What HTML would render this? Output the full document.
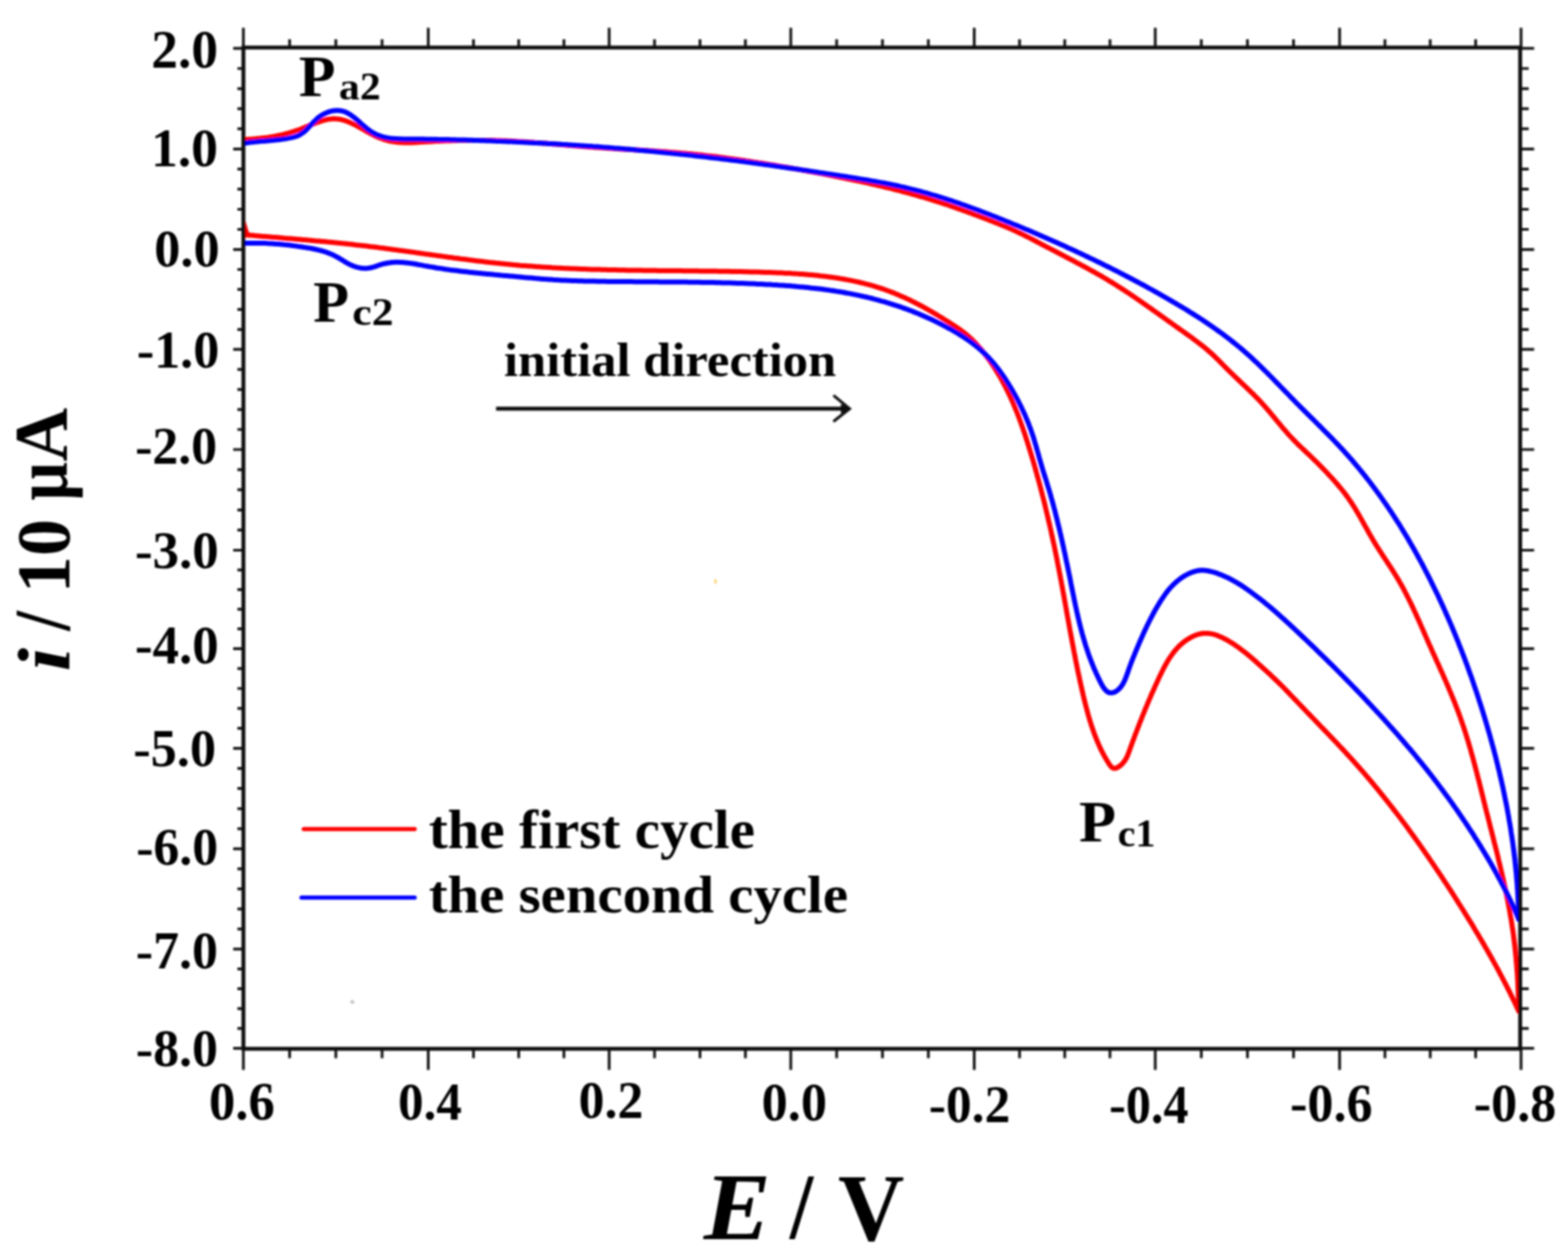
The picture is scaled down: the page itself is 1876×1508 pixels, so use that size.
<!DOCTYPE html>
<html><head><meta charset="utf-8"><title>Cyclic voltammogram</title>
<style>html,body{margin:0;padding:0;background:#fff;}svg{display:block;}</style>
</head><body>
<svg width="1876" height="1508" viewBox="0 0 1876 1508">
<rect width="1876" height="1508" fill="#fff"/>
<defs><filter id="soft" x="0" y="0" width="100%" height="100%" filterUnits="userSpaceOnUse"><feGaussianBlur stdDeviation="1.0"/></filter></defs>
<g filter="url(#soft)">
<path d="M291.2,1255.2L291.2,1280.5M291.2,56.9L291.2,33.3M346.5,1255.2L346.5,1266.5M346.5,56.9L346.5,47.0M401.8,1255.2L401.8,1266.5M401.8,56.9L401.8,47.0M457.1,1255.2L457.1,1266.5M457.1,56.9L457.1,47.0M512.4,1255.2L512.4,1280.5M512.4,56.9L512.4,33.3M566.5,1255.2L566.5,1266.5M566.5,56.9L566.5,47.0M620.6,1255.2L620.6,1266.5M620.6,56.9L620.6,47.0M674.7,1255.2L674.7,1266.5M674.7,56.9L674.7,47.0M728.8,1255.2L728.8,1280.5M728.8,56.9L728.8,33.3M783.1,1255.2L783.1,1266.5M783.1,56.9L783.1,47.0M837.5,1255.2L837.5,1266.5M837.5,56.9L837.5,47.0M891.8,1255.2L891.8,1266.5M891.8,56.9L891.8,47.0M946.1,1255.2L946.1,1280.5M946.1,56.9L946.1,33.3M1001.0,1255.2L1001.0,1266.5M1001.0,56.9L1001.0,47.0M1055.8,1255.2L1055.8,1266.5M1055.8,56.9L1055.8,47.0M1110.7,1255.2L1110.7,1266.5M1110.7,56.9L1110.7,47.0M1165.6,1255.2L1165.6,1280.5M1165.6,56.9L1165.6,33.3M1219.8,1255.2L1219.8,1266.5M1219.8,56.9L1219.8,47.0M1273.9,1255.2L1273.9,1266.5M1273.9,56.9L1273.9,47.0M1328.0,1255.2L1328.0,1266.5M1328.0,56.9L1328.0,47.0M1382.2,1255.2L1382.2,1280.5M1382.2,56.9L1382.2,33.3M1437.3,1255.2L1437.3,1266.5M1437.3,56.9L1437.3,47.0M1492.5,1255.2L1492.5,1266.5M1492.5,56.9L1492.5,47.0M1547.6,1255.2L1547.6,1266.5M1547.6,56.9L1547.6,47.0M1602.7,1255.2L1602.7,1280.5M1602.7,56.9L1602.7,33.3M1657.0,1255.2L1657.0,1266.5M1657.0,56.9L1657.0,47.0M1711.2,1255.2L1711.2,1266.5M1711.2,56.9L1711.2,47.0M1765.5,1255.2L1765.5,1266.5M1765.5,56.9L1765.5,47.0M1819.8,1255.2L1819.8,1280.5M1819.8,56.9L1819.8,33.3M291.2,57.9L279.0,57.9M1818.8,57.9L1835.5,57.9M291.2,82.0L284.0,82.0M1818.8,82.0L1829.0,82.0M291.2,106.1L284.0,106.1M1818.8,106.1L1829.0,106.1M291.2,130.1L284.0,130.1M1818.8,130.1L1829.0,130.1M291.2,154.2L284.0,154.2M1818.8,154.2L1829.0,154.2M291.2,178.3L279.0,178.3M1818.8,178.3L1835.5,178.3M291.2,202.4L284.0,202.4M1818.8,202.4L1829.0,202.4M291.2,226.4L284.0,226.4M1818.8,226.4L1829.0,226.4M291.2,250.5L284.0,250.5M1818.8,250.5L1829.0,250.5M291.2,274.5L284.0,274.5M1818.8,274.5L1829.0,274.5M291.2,298.6L279.0,298.6M1818.8,298.6L1835.5,298.6M291.2,322.5L284.0,322.5M1818.8,322.5L1829.0,322.5M291.2,346.4L284.0,346.4M1818.8,346.4L1829.0,346.4M291.2,370.4L284.0,370.4M1818.8,370.4L1829.0,370.4M291.2,394.3L284.0,394.3M1818.8,394.3L1829.0,394.3M291.2,418.2L279.0,418.2M1818.8,418.2L1835.5,418.2M291.2,442.2L284.0,442.2M1818.8,442.2L1829.0,442.2M291.2,466.1L284.0,466.1M1818.8,466.1L1829.0,466.1M291.2,490.1L284.0,490.1M1818.8,490.1L1829.0,490.1M291.2,514.0L284.0,514.0M1818.8,514.0L1829.0,514.0M291.2,538.0L279.0,538.0M1818.8,538.0L1835.5,538.0M291.2,562.1L284.0,562.1M1818.8,562.1L1829.0,562.1M291.2,586.2L284.0,586.2M1818.8,586.2L1829.0,586.2M291.2,610.3L284.0,610.3M1818.8,610.3L1829.0,610.3M291.2,634.4L284.0,634.4M1818.8,634.4L1829.0,634.4M291.2,658.5L279.0,658.5M1818.8,658.5L1835.5,658.5M291.2,682.1L284.0,682.1M1818.8,682.1L1829.0,682.1M291.2,705.6L284.0,705.6M1818.8,705.6L1829.0,705.6M291.2,729.2L284.0,729.2M1818.8,729.2L1829.0,729.2M291.2,752.7L284.0,752.7M1818.8,752.7L1829.0,752.7M291.2,776.3L279.0,776.3M1818.8,776.3L1835.5,776.3M291.2,800.2L284.0,800.2M1818.8,800.2L1829.0,800.2M291.2,824.0L284.0,824.0M1818.8,824.0L1829.0,824.0M291.2,847.9L284.0,847.9M1818.8,847.9L1829.0,847.9M291.2,871.7L284.0,871.7M1818.8,871.7L1829.0,871.7M291.2,895.6L279.0,895.6M1818.8,895.6L1835.5,895.6M291.2,919.7L284.0,919.7M1818.8,919.7L1829.0,919.7M291.2,943.7L284.0,943.7M1818.8,943.7L1829.0,943.7M291.2,967.8L284.0,967.8M1818.8,967.8L1829.0,967.8M291.2,991.8L284.0,991.8M1818.8,991.8L1829.0,991.8M291.2,1015.9L279.0,1015.9M1818.8,1015.9L1835.5,1015.9M291.2,1039.9L284.0,1039.9M1818.8,1039.9L1829.0,1039.9M291.2,1063.9L284.0,1063.9M1818.8,1063.9L1829.0,1063.9M291.2,1087.8L284.0,1087.8M1818.8,1087.8L1829.0,1087.8M291.2,1111.8L284.0,1111.8M1818.8,1111.8L1829.0,1111.8M291.2,1135.8L279.0,1135.8M1818.8,1135.8L1835.5,1135.8M291.2,1159.6L284.0,1159.6M1818.8,1159.6L1829.0,1159.6M291.2,1183.3L284.0,1183.3M1818.8,1183.3L1829.0,1183.3M291.2,1207.1L284.0,1207.1M1818.8,1207.1L1829.0,1207.1M291.2,1230.8L284.0,1230.8M1818.8,1230.8L1829.0,1230.8M291.2,1254.6L279.0,1254.6M1818.8,1254.6L1835.5,1254.6" stroke="#111" stroke-width="3.2" fill="none"/>
<path d="M292.5,281.0 L295.0,281.2 L297.5,281.4 L300.0,281.6 L302.5,281.8 L305.0,282.1 L307.5,282.3 L309.9,282.5 L312.4,282.7 L314.9,282.9 L317.4,283.1 L319.9,283.3 L322.4,283.5 L324.9,283.7 L327.4,283.9 L329.9,284.1 L332.4,284.3 L334.8,284.5 L337.3,284.7 L339.8,285.0 L342.3,285.2 L344.8,285.4 L347.3,285.6 L349.8,285.8 L352.3,286.0 L354.7,286.2 L357.2,286.4 L359.7,286.6 L362.2,286.9 L364.7,287.1 L367.2,287.3 L369.7,287.5 L372.1,287.7 L374.6,287.9 L377.1,288.2 L379.6,288.4 L382.1,288.6 L384.6,288.9 L387.0,289.1 L389.5,289.3 L392.0,289.6 L394.5,289.8 L397.0,290.0 L399.5,290.3 L401.9,290.5 L404.4,290.8 L406.9,291.0 L409.4,291.3 L411.9,291.5 L414.3,291.8 L416.8,292.1 L419.3,292.3 L421.8,292.6 L424.3,292.9 L426.8,293.2 L429.2,293.4 L431.7,293.7 L434.2,294.0 L436.7,294.3 L439.2,294.6 L441.6,294.9 L444.1,295.2 L446.6,295.5 L449.1,295.8 L451.6,296.1 L454.0,296.5 L456.5,296.8 L459.0,297.1 L461.5,297.4 L464.0,297.7 L466.4,298.1 L468.9,298.4 L471.4,298.7 L473.9,299.1 L476.4,299.4 L478.8,299.7 L481.3,300.1 L483.8,300.4 L486.3,300.8 L488.7,301.1 L491.2,301.4 L493.7,301.8 L496.2,302.1 L498.7,302.5 L501.1,302.8 L503.6,303.2 L506.1,303.5 L508.6,303.9 L511.1,304.2 L513.5,304.6 L516.0,304.9 L518.5,305.3 L521.0,305.6 L523.5,306.0 L525.9,306.3 L528.4,306.6 L530.9,307.0 L533.4,307.3 L535.9,307.7 L538.3,308.0 L540.8,308.3 L543.3,308.7 L545.8,309.0 L548.3,309.3 L550.7,309.7 L553.2,310.0 L555.7,310.3 L558.2,310.6 L560.7,310.9 L563.1,311.3 L565.6,311.6 L568.1,311.9 L570.6,312.2 L573.1,312.5 L575.5,312.8 L578.0,313.1 L580.5,313.4 L583.0,313.7 L585.5,314.0 L588.0,314.2 L590.4,314.5 L592.9,314.8 L595.4,315.0 L597.9,315.3 L600.4,315.6 L602.9,315.8 L605.3,316.1 L607.8,316.3 L610.3,316.5 L612.8,316.8 L615.3,317.0 L617.8,317.2 L620.3,317.4 L622.7,317.7 L625.2,317.9 L627.7,318.1 L630.2,318.3 L632.7,318.5 L635.2,318.6 L637.7,318.8 L640.1,319.0 L642.6,319.2 L645.1,319.3 L647.6,319.5 L650.1,319.7 L652.6,319.8 L655.1,320.0 L657.6,320.1 L660.1,320.3 L662.5,320.4 L665.0,320.6 L667.5,320.7 L670.0,320.8 L672.5,320.9 L675.0,321.1 L677.5,321.2 L680.0,321.3 L682.5,321.4 L685.0,321.5 L687.4,321.6 L689.9,321.7 L692.4,321.8 L694.9,321.9 L697.4,322.0 L699.9,322.1 L702.4,322.2 L704.9,322.3 L707.4,322.4 L709.9,322.4 L712.4,322.5 L714.9,322.6 L717.4,322.6 L719.8,322.7 L722.3,322.8 L724.8,322.8 L727.3,322.9 L729.8,323.0 L732.3,323.0 L734.8,323.1 L737.3,323.1 L739.8,323.2 L742.3,323.2 L744.8,323.3 L747.3,323.3 L749.8,323.4 L752.3,323.4 L754.8,323.5 L757.3,323.5 L759.8,323.5 L762.3,323.6 L764.8,323.6 L767.3,323.6 L769.8,323.7 L772.2,323.7 L774.7,323.7 L777.2,323.8 L779.7,323.8 L782.2,323.8 L784.7,323.8 L787.2,323.9 L789.7,323.9 L792.2,323.9 L794.7,323.9 L797.2,324.0 L799.7,324.0 L802.2,324.0 L804.7,324.0 L807.2,324.1 L809.7,324.1 L812.2,324.1 L814.7,324.1 L817.2,324.2 L819.7,324.2 L822.2,324.2 L824.7,324.2 L827.2,324.3 L829.7,324.3 L832.2,324.3 L834.7,324.3 L837.2,324.4 L839.7,324.4 L842.2,324.4 L844.7,324.5 L847.2,324.5 L849.7,324.5 L852.2,324.5 L854.7,324.6 L857.2,324.6 L859.7,324.7 L862.2,324.7 L864.7,324.7 L867.2,324.8 L869.7,324.8 L872.3,324.8 L874.8,324.9 L877.3,324.9 L879.8,325.0 L882.3,325.0 L884.8,325.1 L887.3,325.1 L889.8,325.2 L892.3,325.3 L894.8,325.3 L897.3,325.4 L899.8,325.4 L902.3,325.5 L904.8,325.6 L907.3,325.6 L909.8,325.7 L912.3,325.8 L914.8,325.9 L917.3,326.0 L919.8,326.0 L922.3,326.1 L924.8,326.2 L927.3,326.3 L929.8,326.4 L932.3,326.5 L934.8,326.6 L937.3,326.7 L939.8,326.9 L942.3,327.0 L944.8,327.1 L947.3,327.3 L949.8,327.4 L952.3,327.6 L954.8,327.7 L957.3,327.9 L959.8,328.1 L962.3,328.3 L964.8,328.5 L967.3,328.7 L969.8,328.9 L972.3,329.1 L974.7,329.4 L977.2,329.6 L979.7,329.9 L982.2,330.2 L984.6,330.4 L987.1,330.7 L989.6,331.1 L992.0,331.4 L994.5,331.7 L997.0,332.1 L999.4,332.4 L1001.9,332.8 L1004.3,333.2 L1006.8,333.6 L1009.2,334.0 L1011.7,334.5 L1014.1,334.9 L1016.5,335.4 L1019.0,335.9 L1021.4,336.4 L1023.8,336.9 L1026.2,337.4 L1028.6,338.0 L1031.1,338.6 L1033.5,339.2 L1035.9,339.8 L1038.3,340.4 L1040.7,341.0 L1043.0,341.7 L1045.4,342.4 L1047.8,343.1 L1050.2,343.9 L1052.6,344.6 L1054.9,345.4 L1057.3,346.2 L1059.6,347.0 L1062.0,347.8 L1064.3,348.7 L1066.7,349.6 L1069.0,350.5 L1071.3,351.5 L1073.7,352.4 L1076.0,353.4 L1078.3,354.4 L1080.6,355.4 L1082.9,356.5 L1085.2,357.5 L1087.5,358.6 L1089.7,359.7 L1092.0,360.9 L1094.3,362.0 L1096.5,363.2 L1098.8,364.3 L1101.0,365.5 L1103.3,366.7 L1105.5,367.9 L1107.7,369.2 L1109.9,370.4 L1112.1,371.6 L1114.3,372.9 L1116.5,374.2 L1118.6,375.5 L1120.8,376.7 L1122.9,378.0 L1125.1,379.3 L1127.2,380.6 L1129.3,382.0 L1131.4,383.3 L1133.5,384.6 L1135.6,385.9 L1137.7,387.2 L1139.7,388.6 L1141.8,389.9 L1143.8,391.3 L1145.8,392.6 L1147.8,394.0 L1149.8,395.4 L1151.8,396.9 L1153.7,398.4 L1155.6,399.9 L1157.5,401.5 L1159.4,403.1 L1161.2,404.8 L1163.1,406.5 L1164.8,408.3 L1166.6,410.1 L1168.3,412.0 L1170.0,413.9 L1171.7,415.8 L1173.4,417.7 L1175.0,419.7 L1176.6,421.7 L1178.1,423.7 L1179.7,425.7 L1181.2,427.7 L1182.7,429.7 L1184.2,431.8 L1185.6,433.8 L1187.0,435.9 L1188.4,438.0 L1189.8,440.1 L1191.1,442.2 L1192.4,444.3 L1193.7,446.5 L1195.0,448.6 L1196.3,450.7 L1197.5,452.9 L1198.7,455.1 L1199.9,457.3 L1201.1,459.5 L1202.2,461.7 L1203.4,463.9 L1204.5,466.1 L1205.6,468.3 L1206.7,470.6 L1207.7,472.8 L1208.8,475.1 L1209.8,477.3 L1210.8,479.6 L1211.8,481.9 L1212.8,484.1 L1213.7,486.4 L1214.7,488.7 L1215.6,491.0 L1216.6,493.4 L1217.5,495.7 L1218.4,498.0 L1219.2,500.3 L1220.1,502.7 L1221.0,505.0 L1221.8,507.3 L1222.7,509.7 L1223.5,512.0 L1224.3,514.4 L1225.1,516.8 L1225.9,519.1 L1226.7,521.5 L1227.5,523.9 L1228.2,526.3 L1229.0,528.6 L1229.8,531.0 L1230.5,533.4 L1231.2,535.8 L1232.0,538.2 L1232.7,540.6 L1233.4,543.0 L1234.2,545.4 L1234.9,547.8 L1235.6,550.1 L1236.3,552.5 L1237.0,554.9 L1237.7,557.3 L1238.4,559.8 L1239.0,562.2 L1239.7,564.6 L1240.4,567.0 L1241.0,569.4 L1241.7,571.8 L1242.4,574.2 L1243.0,576.6 L1243.7,579.0 L1244.3,581.4 L1244.9,583.9 L1245.6,586.3 L1246.2,588.7 L1246.8,591.1 L1247.4,593.5 L1248.1,596.0 L1248.7,598.4 L1249.3,600.8 L1249.9,603.2 L1250.5,605.7 L1251.0,608.1 L1251.6,610.5 L1252.2,613.0 L1252.8,615.4 L1253.4,617.8 L1253.9,620.3 L1254.5,622.7 L1255.1,625.1 L1255.6,627.6 L1256.2,630.0 L1256.7,632.4 L1257.3,634.9 L1257.8,637.3 L1258.3,639.8 L1258.9,642.2 L1259.4,644.6 L1259.9,647.1 L1260.4,649.5 L1261.0,652.0 L1261.5,654.4 L1262.0,656.9 L1262.5,659.3 L1263.0,661.8 L1263.5,664.2 L1264.0,666.6 L1264.5,669.1 L1265.0,671.5 L1265.4,674.0 L1265.9,676.4 L1266.4,678.9 L1266.9,681.3 L1267.3,683.8 L1267.8,686.2 L1268.3,688.7 L1268.7,691.2 L1269.2,693.6 L1269.7,696.1 L1270.1,698.5 L1270.6,701.0 L1271.0,703.4 L1271.5,705.9 L1271.9,708.3 L1272.4,710.8 L1272.8,713.2 L1273.3,715.7 L1273.7,718.1 L1274.1,720.6 L1274.6,723.1 L1275.0,725.5 L1275.5,728.0 L1275.9,730.4 L1276.3,732.9 L1276.8,735.3 L1277.2,737.8 L1277.7,740.2 L1278.1,742.7 L1278.6,745.2 L1279.0,747.6 L1279.4,750.1 L1279.9,752.5 L1280.3,755.0 L1280.8,757.4 L1281.2,759.9 L1281.7,762.3 L1282.2,764.8 L1282.6,767.3 L1283.1,769.7 L1283.5,772.2 L1284.0,774.6 L1284.5,777.1 L1284.9,779.5 L1285.4,782.0 L1285.9,784.4 L1286.4,786.9 L1286.8,789.3 L1287.3,791.8 L1287.8,794.2 L1288.3,796.7 L1288.8,799.1 L1289.3,801.6 L1289.8,804.0 L1290.3,806.5 L1290.9,808.9 L1291.4,811.4 L1291.9,813.8 L1292.4,816.3 L1293.0,818.7 L1293.5,821.2 L1294.1,823.6 L1294.6,826.1 L1295.2,828.5 L1295.8,830.9 L1296.3,833.4 L1296.9,835.8 L1297.5,838.3 L1298.1,840.7 L1298.7,843.1 L1299.3,845.6 L1300.0,848.0 L1300.6,850.4 L1301.3,852.8 L1301.9,855.3 L1302.6,857.7 L1303.3,860.1 L1304.0,862.5 L1304.8,864.9 L1305.5,867.2 L1306.3,869.6 L1307.1,872.0 L1307.9,874.3 L1308.7,876.7 L1309.6,879.0 L1310.5,881.4 L1311.4,883.7 L1312.3,886.0 L1313.3,888.3 L1314.3,890.6 L1315.3,892.8 L1316.3,895.1 L1317.4,897.4 L1318.5,899.6 L1319.7,901.8 L1320.8,904.0 L1322.1,906.2 L1323.3,908.4 L1324.6,910.5 L1325.9,912.6 L1327.2,914.8 L1328.7,916.8 L1330.2,918.4 L1332.0,919.5 L1334.1,919.6 L1336.4,918.9 L1338.9,917.4 L1341.2,915.6 L1343.2,913.6 L1345.0,911.4 L1346.5,909.3 L1347.7,907.0 L1348.8,904.8 L1349.7,902.5 L1350.6,900.2 L1351.5,897.8 L1352.3,895.5 L1353.1,893.2 L1354.0,890.8 L1354.8,888.5 L1355.7,886.2 L1356.6,883.8 L1357.4,881.5 L1358.3,879.2 L1359.2,876.8 L1360.1,874.5 L1361.0,872.2 L1361.9,869.9 L1362.8,867.5 L1363.7,865.2 L1364.6,862.9 L1365.5,860.6 L1366.4,858.2 L1367.3,855.9 L1368.3,853.6 L1369.2,851.3 L1370.1,849.0 L1371.1,846.7 L1372.1,844.3 L1373.0,842.0 L1374.0,839.7 L1375.0,837.4 L1376.0,835.1 L1376.9,832.8 L1377.9,830.5 L1378.9,828.3 L1380.0,826.0 L1381.0,823.7 L1382.0,821.4 L1383.0,819.1 L1384.1,816.9 L1385.1,814.6 L1386.2,812.3 L1387.2,810.1 L1388.3,807.8 L1389.4,805.6 L1390.5,803.3 L1391.6,801.1 L1392.7,798.9 L1393.9,796.7 L1395.1,794.5 L1396.3,792.4 L1397.6,790.2 L1398.9,788.1 L1400.3,786.1 L1401.7,784.1 L1403.1,782.1 L1404.6,780.1 L1406.2,778.2 L1407.8,776.4 L1409.5,774.5 L1411.3,772.8 L1413.1,771.1 L1415.1,769.4 L1417.1,767.8 L1419.2,766.3 L1421.3,764.9 L1423.5,763.6 L1425.8,762.3 L1428.1,761.2 L1430.4,760.3 L1432.8,759.4 L1435.2,758.8 L1437.6,758.3 L1440.1,758.0 L1442.5,757.9 L1444.9,757.9 L1447.3,758.2 L1449.7,758.6 L1452.1,759.2 L1454.5,759.9 L1456.9,760.7 L1459.2,761.7 L1461.5,762.7 L1463.8,763.8 L1466.1,765.0 L1468.3,766.2 L1470.5,767.5 L1472.7,768.8 L1474.8,770.1 L1476.9,771.5 L1479.0,772.9 L1481.0,774.4 L1483.0,775.8 L1485.0,777.3 L1487.0,778.8 L1489.0,780.3 L1490.9,781.9 L1492.8,783.4 L1494.7,785.0 L1496.6,786.6 L1498.5,788.3 L1500.4,789.9 L1502.3,791.5 L1504.1,793.2 L1506.0,794.9 L1507.8,796.5 L1509.7,798.2 L1511.5,799.9 L1513.4,801.6 L1515.2,803.2 L1517.0,804.9 L1518.9,806.6 L1520.7,808.3 L1522.5,810.1 L1524.3,811.8 L1526.1,813.5 L1527.9,815.2 L1529.7,817.0 L1531.5,818.7 L1533.3,820.5 L1535.0,822.2 L1536.8,824.0 L1538.5,825.8 L1540.3,827.6 L1542.0,829.4 L1543.7,831.2 L1545.4,833.0 L1547.1,834.8 L1548.9,836.6 L1550.6,838.4 L1552.3,840.2 L1554.0,842.0 L1555.7,843.8 L1557.4,845.6 L1559.2,847.4 L1560.9,849.2 L1562.6,851.0 L1564.3,852.8 L1566.1,854.6 L1567.8,856.4 L1569.5,858.2 L1571.3,860.0 L1573.0,861.8 L1574.7,863.6 L1576.5,865.4 L1578.2,867.2 L1579.9,869.0 L1581.7,870.8 L1583.4,872.6 L1585.1,874.4 L1586.9,876.2 L1588.6,878.0 L1590.3,879.8 L1592.0,881.6 L1593.8,883.4 L1595.5,885.2 L1597.2,887.0 L1598.9,888.8 L1600.6,890.6 L1602.3,892.5 L1604.1,894.3 L1605.8,896.1 L1607.5,897.9 L1609.2,899.8 L1610.8,901.6 L1612.5,903.4 L1614.2,905.3 L1615.9,907.1 L1617.6,909.0 L1619.2,910.8 L1620.9,912.7 L1622.6,914.6 L1624.2,916.4 L1625.9,918.3 L1627.5,920.2 L1629.2,922.0 L1630.8,923.9 L1632.4,925.8 L1634.1,927.7 L1635.7,929.6 L1637.3,931.5 L1638.9,933.4 L1640.5,935.3 L1642.1,937.2 L1643.7,939.2 L1645.3,941.1 L1646.9,943.0 L1648.5,944.9 L1650.0,946.9 L1651.6,948.8 L1653.2,950.8 L1654.8,952.7 L1656.3,954.7 L1657.9,956.6 L1659.4,958.6 L1661.0,960.5 L1662.5,962.5 L1664.0,964.4 L1665.6,966.4 L1667.1,968.4 L1668.6,970.4 L1670.2,972.4 L1671.7,974.3 L1673.2,976.3 L1674.7,978.3 L1676.2,980.3 L1677.7,982.3 L1679.2,984.3 L1680.7,986.3 L1682.2,988.3 L1683.7,990.3 L1685.1,992.3 L1686.6,994.4 L1688.1,996.4 L1689.5,998.4 L1691.0,1000.4 L1692.5,1002.4 L1693.9,1004.5 L1695.4,1006.5 L1696.8,1008.5 L1698.3,1010.6 L1699.7,1012.6 L1701.2,1014.7 L1702.6,1016.7 L1704.0,1018.8 L1705.4,1020.8 L1706.9,1022.9 L1708.3,1024.9 L1709.7,1027.0 L1711.1,1029.1 L1712.5,1031.1 L1713.9,1033.2 L1715.3,1035.3 L1716.7,1037.3 L1718.1,1039.4 L1719.5,1041.5 L1720.9,1043.5 L1722.3,1045.6 L1723.7,1047.7 L1725.1,1049.8 L1726.5,1051.9 L1727.8,1054.0 L1729.2,1056.1 L1730.6,1058.2 L1731.9,1060.2 L1733.3,1062.3 L1734.7,1064.4 L1736.0,1066.5 L1737.4,1068.6 L1738.7,1070.7 L1740.1,1072.8 L1741.4,1075.0 L1742.8,1077.1 L1744.1,1079.2 L1745.4,1081.3 L1746.8,1083.4 L1748.1,1085.5 L1749.4,1087.6 L1750.8,1089.7 L1752.1,1091.9 L1753.4,1094.0 L1754.7,1096.1 L1756.0,1098.2 L1757.3,1100.4 L1758.7,1102.5 L1760.0,1104.6 L1761.3,1106.7 L1762.6,1108.9 L1763.8,1111.0 L1765.1,1113.2 L1766.4,1115.3 L1767.7,1117.4 L1769.0,1119.6 L1770.2,1121.7 L1771.5,1123.9 L1772.8,1126.0 L1774.0,1128.2 L1775.3,1130.3 L1776.5,1132.5 L1777.8,1134.7 L1779.0,1136.8 L1780.3,1139.0 L1781.5,1141.2 L1782.7,1143.3 L1784.0,1145.5 L1785.2,1147.7 L1786.4,1149.9 L1787.6,1152.1 L1788.8,1154.2 L1790.0,1156.4 L1791.2,1158.6 L1792.4,1160.8 L1793.6,1163.0 L1794.7,1165.2 L1795.9,1167.4 L1797.1,1169.6 L1798.2,1171.9 L1799.4,1174.1 L1800.5,1176.3 L1801.7,1178.5 L1802.8,1180.7 L1803.9,1183.0 L1805.1,1185.2 L1806.2,1187.4 L1807.3,1189.7 L1808.4,1191.9 L1809.5,1194.2 L1810.6,1196.4 L1811.7,1198.7 L1812.8,1200.9 L1813.8,1203.2 L1814.9,1205.5 L1815.9,1207.7 L1817.0,1210.0" fill="none" stroke="#ff0000" stroke-width="6.0" stroke-linejoin="round" stroke-linecap="round"/>
<path d="M1817.0,1210.0 L1817.0,1207.5 L1816.9,1205.0 L1816.9,1202.5 L1816.8,1200.0 L1816.8,1197.5 L1816.7,1195.0 L1816.6,1192.5 L1816.5,1190.0 L1816.4,1187.5 L1816.3,1185.0 L1816.2,1182.5 L1816.1,1180.0 L1816.0,1177.5 L1815.9,1175.0 L1815.7,1172.5 L1815.6,1170.0 L1815.4,1167.5 L1815.3,1165.0 L1815.1,1162.6 L1814.9,1160.1 L1814.7,1157.6 L1814.6,1155.1 L1814.3,1152.6 L1814.1,1150.1 L1813.9,1147.6 L1813.7,1145.1 L1813.4,1142.6 L1813.2,1140.1 L1812.9,1137.6 L1812.7,1135.2 L1812.4,1132.7 L1812.1,1130.2 L1811.8,1127.7 L1811.5,1125.2 L1811.2,1122.8 L1810.9,1120.3 L1810.6,1117.8 L1810.2,1115.3 L1809.9,1112.9 L1809.5,1110.4 L1809.1,1107.9 L1808.7,1105.5 L1808.4,1103.0 L1808.0,1100.5 L1807.5,1098.1 L1807.1,1095.6 L1806.7,1093.2 L1806.3,1090.7 L1805.8,1088.2 L1805.4,1085.8 L1804.9,1083.3 L1804.4,1080.9 L1804.0,1078.4 L1803.5,1076.0 L1803.0,1073.6 L1802.5,1071.1 L1802.0,1068.7 L1801.5,1066.2 L1801.0,1063.8 L1800.4,1061.3 L1799.9,1058.9 L1799.4,1056.5 L1798.8,1054.0 L1798.3,1051.6 L1797.7,1049.2 L1797.2,1046.7 L1796.6,1044.3 L1796.0,1041.9 L1795.5,1039.4 L1794.9,1037.0 L1794.3,1034.6 L1793.7,1032.1 L1793.1,1029.7 L1792.6,1027.3 L1792.0,1024.9 L1791.4,1022.4 L1790.8,1020.0 L1790.2,1017.6 L1789.6,1015.2 L1789.0,1012.7 L1788.3,1010.3 L1787.7,1007.9 L1787.1,1005.5 L1786.5,1003.0 L1785.9,1000.6 L1785.3,998.2 L1784.7,995.8 L1784.1,993.3 L1783.4,990.9 L1782.8,988.5 L1782.2,986.1 L1781.6,983.6 L1781.0,981.2 L1780.4,978.8 L1779.8,976.4 L1779.1,973.9 L1778.5,971.5 L1777.9,969.1 L1777.3,966.7 L1776.7,964.2 L1776.1,961.8 L1775.5,959.4 L1774.9,956.9 L1774.3,954.5 L1773.7,952.1 L1773.1,949.7 L1772.5,947.2 L1771.9,944.8 L1771.3,942.4 L1770.7,939.9 L1770.1,937.5 L1769.5,935.1 L1768.9,932.7 L1768.2,930.3 L1767.6,927.8 L1767.0,925.4 L1766.4,923.0 L1765.7,920.6 L1765.1,918.2 L1764.5,915.7 L1763.8,913.3 L1763.2,910.9 L1762.5,908.5 L1761.9,906.1 L1761.2,903.7 L1760.5,901.3 L1759.9,898.9 L1759.2,896.5 L1758.5,894.1 L1757.8,891.7 L1757.1,889.3 L1756.4,886.9 L1755.6,884.5 L1754.9,882.2 L1754.2,879.8 L1753.4,877.4 L1752.7,875.0 L1751.9,872.7 L1751.1,870.3 L1750.3,867.9 L1749.5,865.6 L1748.7,863.2 L1747.9,860.9 L1747.1,858.5 L1746.2,856.2 L1745.4,853.9 L1744.5,851.5 L1743.6,849.2 L1742.7,846.9 L1741.8,844.5 L1740.9,842.2 L1740.0,839.9 L1739.1,837.6 L1738.1,835.3 L1737.2,833.0 L1736.3,830.7 L1735.3,828.4 L1734.3,826.1 L1733.4,823.8 L1732.4,821.5 L1731.4,819.2 L1730.4,816.9 L1729.4,814.6 L1728.4,812.3 L1727.4,810.0 L1726.4,807.7 L1725.4,805.4 L1724.4,803.2 L1723.3,800.9 L1722.3,798.6 L1721.3,796.3 L1720.3,794.0 L1719.2,791.8 L1718.2,789.5 L1717.2,787.2 L1716.2,784.9 L1715.1,782.6 L1714.1,780.4 L1713.1,778.1 L1712.1,775.8 L1711.1,773.5 L1710.0,771.2 L1709.0,768.9 L1708.0,766.7 L1707.0,764.4 L1706.0,762.1 L1705.0,759.8 L1704.0,757.5 L1703.0,755.2 L1702.0,752.9 L1701.0,750.7 L1700.0,748.4 L1699.0,746.1 L1698.0,743.8 L1697.0,741.5 L1695.9,739.3 L1694.9,737.0 L1693.9,734.7 L1692.8,732.5 L1691.8,730.2 L1690.7,727.9 L1689.7,725.7 L1688.6,723.4 L1687.5,721.2 L1686.4,719.0 L1685.3,716.7 L1684.2,714.5 L1683.1,712.3 L1682.0,710.1 L1680.8,707.9 L1679.7,705.7 L1678.5,703.5 L1677.3,701.3 L1676.1,699.2 L1674.8,697.0 L1673.6,694.8 L1672.3,692.7 L1671.1,690.6 L1669.8,688.5 L1668.4,686.3 L1667.1,684.2 L1665.8,682.1 L1664.4,680.0 L1663.1,677.9 L1661.7,675.8 L1660.3,673.8 L1659.0,671.7 L1657.6,669.6 L1656.2,667.5 L1654.8,665.4 L1653.5,663.3 L1652.1,661.2 L1650.7,659.1 L1649.4,657.0 L1648.1,654.9 L1646.7,652.8 L1645.4,650.6 L1644.1,648.5 L1642.8,646.4 L1641.6,644.2 L1640.3,642.0 L1639.1,639.9 L1637.8,637.7 L1636.6,635.5 L1635.4,633.3 L1634.2,631.1 L1632.9,629.0 L1631.7,626.8 L1630.5,624.6 L1629.3,622.4 L1628.0,620.2 L1626.8,618.1 L1625.6,615.9 L1624.3,613.7 L1623.0,611.6 L1621.8,609.5 L1620.5,607.3 L1619.1,605.2 L1617.8,603.1 L1616.4,601.0 L1615.0,599.0 L1613.6,596.9 L1612.2,594.9 L1610.7,592.9 L1609.2,590.9 L1607.7,588.9 L1606.2,587.0 L1604.6,585.0 L1603.0,583.1 L1601.4,581.2 L1599.8,579.3 L1598.2,577.4 L1596.5,575.5 L1594.9,573.7 L1593.2,571.8 L1591.5,570.0 L1589.8,568.2 L1588.1,566.3 L1586.4,564.5 L1584.7,562.7 L1582.9,560.9 L1581.2,559.1 L1579.5,557.4 L1577.7,555.6 L1576.0,553.8 L1574.2,552.1 L1572.4,550.3 L1570.7,548.6 L1568.9,546.9 L1567.1,545.2 L1565.3,543.4 L1563.4,541.7 L1561.6,540.0 L1559.8,538.3 L1558.0,536.6 L1556.2,534.9 L1554.4,533.2 L1552.6,531.5 L1550.9,529.7 L1549.1,527.9 L1547.4,526.1 L1545.7,524.3 L1544.0,522.5 L1542.3,520.7 L1540.6,518.8 L1539.0,516.9 L1537.4,515.1 L1535.7,513.2 L1534.1,511.3 L1532.5,509.3 L1530.9,507.4 L1529.3,505.5 L1527.7,503.6 L1526.1,501.6 L1524.5,499.7 L1522.9,497.8 L1521.3,495.9 L1519.7,493.9 L1518.1,492.0 L1516.5,490.1 L1514.8,488.2 L1513.2,486.3 L1511.5,484.5 L1509.9,482.6 L1508.2,480.8 L1506.5,478.9 L1504.7,477.1 L1503.0,475.4 L1501.2,473.6 L1499.5,471.8 L1497.7,470.1 L1495.9,468.3 L1494.1,466.6 L1492.3,464.8 L1490.5,463.1 L1488.7,461.4 L1486.9,459.7 L1485.1,458.0 L1483.3,456.2 L1481.5,454.5 L1479.7,452.8 L1477.9,451.1 L1476.1,449.3 L1474.3,447.6 L1472.5,445.9 L1470.7,444.1 L1468.9,442.3 L1467.2,440.6 L1465.4,438.8 L1463.6,437.0 L1461.9,435.2 L1460.1,433.5 L1458.4,431.7 L1456.6,429.9 L1454.8,428.2 L1453.0,426.4 L1451.2,424.7 L1449.4,423.0 L1447.5,421.4 L1445.6,419.7 L1443.8,418.1 L1441.9,416.5 L1439.9,414.9 L1438.0,413.4 L1436.0,411.8 L1434.1,410.3 L1432.1,408.8 L1430.1,407.3 L1428.1,405.8 L1426.1,404.3 L1424.1,402.9 L1422.1,401.4 L1420.0,400.0 L1418.0,398.5 L1416.0,397.1 L1413.9,395.6 L1411.9,394.2 L1409.8,392.7 L1407.8,391.3 L1405.8,389.8 L1403.7,388.4 L1401.7,386.9 L1399.7,385.5 L1397.6,384.0 L1395.6,382.6 L1393.6,381.1 L1391.5,379.7 L1389.5,378.2 L1387.5,376.8 L1385.4,375.3 L1383.4,373.9 L1381.4,372.4 L1379.3,371.0 L1377.3,369.5 L1375.2,368.1 L1373.2,366.6 L1371.2,365.2 L1369.1,363.8 L1367.1,362.3 L1365.0,360.9 L1363.0,359.5 L1360.9,358.1 L1358.8,356.6 L1356.8,355.2 L1354.7,353.8 L1352.6,352.4 L1350.6,351.0 L1348.5,349.7 L1346.4,348.3 L1344.3,346.9 L1342.2,345.6 L1340.1,344.2 L1338.0,342.9 L1335.9,341.5 L1333.8,340.2 L1331.7,338.9 L1329.6,337.6 L1327.4,336.3 L1325.3,335.0 L1323.1,333.7 L1321.0,332.5 L1318.8,331.2 L1316.7,329.9 L1314.5,328.7 L1312.3,327.5 L1310.2,326.2 L1308.0,325.0 L1305.8,323.8 L1303.6,322.6 L1301.4,321.4 L1299.2,320.2 L1297.0,319.0 L1294.8,317.8 L1292.6,316.6 L1290.4,315.5 L1288.2,314.3 L1286.0,313.1 L1283.8,311.9 L1281.6,310.8 L1279.4,309.6 L1277.2,308.5 L1275.0,307.3 L1272.8,306.1 L1270.5,305.0 L1268.3,303.8 L1266.1,302.7 L1263.9,301.5 L1261.7,300.4 L1259.5,299.2 L1257.3,298.1 L1255.0,296.9 L1252.8,295.8 L1250.6,294.6 L1248.4,293.5 L1246.2,292.3 L1244.0,291.1 L1241.8,290.0 L1239.6,288.8 L1237.4,287.7 L1235.2,286.5 L1233.0,285.4 L1230.8,284.2 L1228.5,283.1 L1226.3,282.0 L1224.1,280.9 L1221.8,279.8 L1219.6,278.7 L1217.4,277.7 L1215.1,276.6 L1212.8,275.6 L1210.6,274.5 L1208.3,273.5 L1206.0,272.5 L1203.7,271.6 L1201.4,270.6 L1199.1,269.7 L1196.8,268.7 L1194.4,267.8 L1192.1,266.9 L1189.8,266.0 L1187.4,265.0 L1185.1,264.1 L1182.8,263.2 L1180.4,262.3 L1178.1,261.4 L1175.8,260.5 L1173.4,259.6 L1171.1,258.7 L1168.8,257.9 L1166.4,257.0 L1164.1,256.1 L1161.7,255.2 L1159.4,254.4 L1157.0,253.5 L1154.7,252.7 L1152.3,251.8 L1150.0,251.0 L1147.6,250.1 L1145.3,249.3 L1142.9,248.5 L1140.6,247.6 L1138.2,246.8 L1135.8,246.0 L1133.5,245.2 L1131.1,244.4 L1128.7,243.6 L1126.4,242.9 L1124.0,242.1 L1121.6,241.3 L1119.2,240.6 L1116.8,239.8 L1114.5,239.1 L1112.1,238.4 L1109.7,237.6 L1107.3,236.9 L1104.9,236.2 L1102.5,235.5 L1100.1,234.8 L1097.7,234.1 L1095.3,233.4 L1092.9,232.8 L1090.5,232.1 L1088.1,231.4 L1085.7,230.8 L1083.3,230.1 L1080.9,229.5 L1078.5,228.8 L1076.0,228.2 L1073.6,227.6 L1071.2,227.0 L1068.8,226.4 L1066.4,225.7 L1063.9,225.1 L1061.5,224.6 L1059.1,224.0 L1056.7,223.4 L1054.2,222.8 L1051.8,222.2 L1049.4,221.7 L1046.9,221.1 L1044.5,220.5 L1042.1,220.0 L1039.6,219.4 L1037.2,218.9 L1034.8,218.3 L1032.3,217.8 L1029.9,217.3 L1027.4,216.7 L1025.0,216.2 L1022.5,215.7 L1020.1,215.2 L1017.7,214.7 L1015.2,214.2 L1012.8,213.7 L1010.3,213.2 L1007.9,212.7 L1005.4,212.2 L1003.0,211.7 L1000.5,211.2 L998.0,210.7 L995.6,210.2 L993.1,209.8 L990.7,209.3 L988.2,208.8 L985.8,208.4 L983.3,207.9 L980.9,207.4 L978.4,207.0 L975.9,206.5 L973.5,206.1 L971.0,205.6 L968.6,205.2 L966.1,204.7 L963.6,204.3 L961.2,203.8 L958.7,203.4 L956.2,202.9 L953.8,202.5 L951.3,202.1 L948.9,201.6 L946.4,201.2 L943.9,200.8 L941.5,200.3 L939.0,199.9 L936.5,199.5 L934.1,199.1 L931.6,198.6 L929.1,198.2 L926.7,197.8 L924.2,197.4 L921.7,197.0 L919.3,196.6 L916.8,196.2 L914.3,195.8 L911.9,195.4 L909.4,195.0 L906.9,194.6 L904.5,194.2 L902.0,193.9 L899.5,193.5 L897.1,193.1 L894.6,192.7 L892.1,192.4 L889.6,192.0 L887.2,191.6 L884.7,191.3 L882.2,190.9 L879.8,190.6 L877.3,190.2 L874.8,189.9 L872.3,189.6 L869.9,189.2 L867.4,188.9 L864.9,188.6 L862.4,188.3 L860.0,187.9 L857.5,187.6 L855.0,187.3 L852.5,187.0 L850.0,186.7 L847.6,186.5 L845.1,186.2 L842.6,185.9 L840.1,185.6 L837.6,185.3 L835.2,185.1 L832.7,184.8 L830.2,184.6 L827.7,184.3 L825.2,184.1 L822.7,183.9 L820.2,183.6 L817.8,183.4 L815.3,183.2 L812.8,183.0 L810.3,182.8 L807.8,182.6 L805.3,182.4 L802.8,182.2 L800.3,182.0 L797.8,181.8 L795.4,181.6 L792.9,181.4 L790.4,181.3 L787.9,181.1 L785.4,180.9 L782.9,180.8 L780.4,180.6 L777.9,180.4 L775.4,180.3 L772.9,180.1 L770.4,180.0 L767.9,179.8 L765.4,179.7 L762.9,179.5 L760.4,179.4 L757.9,179.2 L755.5,179.1 L753.0,178.9 L750.5,178.8 L748.0,178.7 L745.5,178.5 L743.0,178.4 L740.5,178.2 L738.0,178.1 L735.5,177.9 L733.0,177.8 L730.5,177.6 L728.0,177.4 L725.5,177.3 L723.0,177.1 L720.5,176.9 L718.0,176.8 L715.5,176.6 L713.0,176.4 L710.5,176.3 L708.0,176.1 L705.5,175.9 L703.0,175.7 L700.6,175.5 L698.1,175.3 L695.6,175.1 L693.1,174.9 L690.6,174.7 L688.1,174.5 L685.6,174.3 L683.1,174.1 L680.6,173.9 L678.1,173.7 L675.6,173.5 L673.1,173.3 L670.6,173.1 L668.1,172.9 L665.7,172.6 L663.2,172.4 L660.7,172.2 L658.2,172.0 L655.7,171.8 L653.2,171.6 L650.7,171.4 L648.2,171.3 L645.7,171.1 L643.2,170.9 L640.7,170.7 L638.2,170.5 L635.8,170.3 L633.3,170.2 L630.8,170.0 L628.3,169.8 L625.8,169.7 L623.3,169.5 L620.8,169.4 L618.3,169.2 L615.8,169.1 L613.3,169.0 L610.8,168.8 L608.3,168.7 L605.9,168.6 L603.4,168.5 L600.9,168.4 L598.4,168.3 L595.9,168.2 L593.4,168.2 L590.9,168.1 L588.4,168.1 L585.9,168.0 L583.4,168.0 L580.9,167.9 L578.4,167.9 L575.9,167.9 L573.4,167.9 L571.0,167.9 L568.5,167.9 L566.0,167.9 L563.5,167.9 L561.0,167.9 L558.5,167.9 L556.0,168.0 L553.5,168.0 L551.0,168.1 L548.5,168.1 L546.0,168.2 L543.5,168.2 L541.0,168.3 L538.5,168.4 L536.0,168.5 L533.5,168.6 L531.0,168.7 L528.5,168.8 L526.0,168.9 L523.5,169.0 L521.0,169.1 L518.5,169.3 L515.9,169.4 L513.4,169.5 L510.9,169.7 L508.4,169.8 L505.9,170.0 L503.4,170.1 L500.9,170.3 L498.4,170.4 L495.9,170.6 L493.4,170.7 L490.9,170.8 L488.4,170.8 L485.9,170.8 L483.4,170.8 L480.9,170.6 L478.4,170.5 L476.0,170.3 L473.5,170.0 L471.1,169.6 L468.7,169.2 L466.3,168.7 L463.9,168.2 L461.5,167.5 L459.1,166.8 L456.8,166.0 L454.5,165.2 L452.2,164.2 L449.9,163.2 L447.6,162.1 L445.4,160.9 L443.1,159.8 L440.9,158.5 L438.6,157.3 L436.4,156.0 L434.1,154.7 L431.8,153.4 L429.6,152.2 L427.3,150.9 L425.0,149.7 L422.8,148.6 L420.5,147.5 L418.2,146.4 L415.9,145.5 L413.6,144.6 L411.3,143.9 L409.0,143.3 L406.7,142.8 L404.4,142.4 L402.0,142.2 L399.7,142.1 L397.3,142.2 L395.0,142.4 L392.6,142.8 L390.2,143.3 L387.9,143.8 L385.5,144.5 L383.1,145.3 L380.7,146.1 L378.3,147.0 L375.9,147.9 L373.5,148.8 L371.1,149.8 L368.7,150.8 L366.3,151.8 L363.9,152.8 L361.5,153.8 L359.1,154.7 L356.7,155.6 L354.3,156.4 L351.9,157.2 L349.6,158.0 L347.2,158.7 L344.8,159.4 L342.4,160.0 L340.0,160.7 L337.6,161.2 L335.3,161.8 L332.9,162.3 L330.5,162.8 L328.0,163.2 L325.6,163.6 L323.2,164.0 L320.8,164.4 L318.3,164.7 L315.9,165.0 L313.4,165.3 L310.9,165.6 L308.5,165.8 L305.9,166.1 L303.4,166.3 L300.9,166.5 L298.3,166.7 L295.8,166.8 L293.2,167.0" fill="none" stroke="#ff0000" stroke-width="6.0" stroke-linejoin="round" stroke-linecap="round"/>
<path d="M292.5,283 L293.6,263.5 L296.8,275 L299.5,281.5 Z" fill="#ff0000"/>
<path d="M292.5,291.2 L295.0,291.1 L297.5,291.0 L300.0,290.9 L302.5,290.9 L305.0,290.9 L307.5,290.9 L310.0,290.9 L312.5,291.0 L315.0,291.1 L317.5,291.1 L319.9,291.3 L322.4,291.4 L324.9,291.5 L327.4,291.7 L329.9,291.9 L332.4,292.1 L334.9,292.3 L337.4,292.5 L339.9,292.8 L342.4,293.0 L344.8,293.3 L347.3,293.6 L349.8,293.9 L352.3,294.3 L354.8,294.6 L357.3,295.0 L359.7,295.3 L362.2,295.7 L364.7,296.1 L367.1,296.5 L369.6,296.9 L372.1,297.3 L374.5,297.8 L376.9,298.3 L379.4,298.8 L381.8,299.4 L384.2,300.0 L386.6,300.7 L388.9,301.4 L391.3,302.2 L393.6,303.1 L395.9,304.0 L398.2,305.0 L400.5,306.1 L402.7,307.3 L404.9,308.5 L407.1,309.9 L409.3,311.2 L411.4,312.5 L413.6,313.9 L415.8,315.1 L418.1,316.3 L420.3,317.4 L422.6,318.3 L424.9,319.2 L427.3,319.9 L429.7,320.4 L432.1,320.9 L434.5,321.1 L436.9,321.2 L439.4,321.1 L441.8,320.8 L444.3,320.3 L446.7,319.7 L449.2,318.9 L451.6,318.0 L454.1,317.2 L456.5,316.4 L459.0,315.7 L461.4,315.2 L463.9,314.7 L466.3,314.4 L468.8,314.1 L471.2,313.9 L473.7,313.8 L476.2,313.8 L478.6,313.9 L481.1,314.0 L483.5,314.2 L486.0,314.4 L488.4,314.7 L490.9,315.1 L493.4,315.4 L495.8,315.8 L498.3,316.2 L500.7,316.7 L503.2,317.1 L505.7,317.6 L508.1,318.1 L510.6,318.5 L513.1,319.0 L515.5,319.4 L518.0,319.8 L520.5,320.2 L522.9,320.7 L525.4,321.0 L527.9,321.4 L530.3,321.8 L532.8,322.2 L535.3,322.5 L537.8,322.9 L540.2,323.2 L542.7,323.5 L545.2,323.8 L547.7,324.1 L550.1,324.4 L552.6,324.7 L555.1,325.0 L557.6,325.3 L560.0,325.6 L562.5,325.9 L565.0,326.1 L567.5,326.4 L570.0,326.6 L572.4,326.9 L574.9,327.1 L577.4,327.4 L579.9,327.6 L582.4,327.9 L584.8,328.1 L587.3,328.3 L589.8,328.5 L592.3,328.8 L594.8,329.0 L597.3,329.2 L599.7,329.5 L602.2,329.7 L604.7,329.9 L607.2,330.1 L609.7,330.4 L612.2,330.6 L614.6,330.8 L617.1,331.1 L619.6,331.3 L622.1,331.5 L624.6,331.7 L627.1,332.0 L629.6,332.2 L632.0,332.4 L634.5,332.6 L637.0,332.8 L639.5,333.1 L642.0,333.3 L644.5,333.5 L647.0,333.7 L649.4,333.9 L651.9,334.1 L654.4,334.2 L656.9,334.4 L659.4,334.6 L661.9,334.8 L664.4,334.9 L666.9,335.1 L669.4,335.2 L671.8,335.4 L674.3,335.5 L676.8,335.6 L679.3,335.7 L681.8,335.8 L684.3,335.9 L686.8,336.0 L689.3,336.1 L691.8,336.2 L694.3,336.3 L696.8,336.3 L699.3,336.4 L701.8,336.5 L704.3,336.5 L706.8,336.6 L709.3,336.6 L711.8,336.6 L714.3,336.7 L716.8,336.7 L719.2,336.8 L721.7,336.8 L724.2,336.8 L726.7,336.9 L729.2,336.9 L731.7,336.9 L734.2,337.0 L736.7,337.0 L739.2,337.0 L741.7,337.0 L744.2,337.0 L746.7,337.1 L749.2,337.1 L751.7,337.1 L754.2,337.1 L756.7,337.1 L759.2,337.2 L761.7,337.2 L764.2,337.2 L766.7,337.2 L769.2,337.2 L771.7,337.2 L774.2,337.3 L776.7,337.3 L779.2,337.3 L781.7,337.3 L784.2,337.3 L786.7,337.3 L789.2,337.4 L791.7,337.4 L794.2,337.4 L796.7,337.4 L799.2,337.4 L801.7,337.4 L804.2,337.5 L806.7,337.5 L809.2,337.5 L811.7,337.5 L814.2,337.5 L816.7,337.6 L819.2,337.6 L821.7,337.6 L824.2,337.7 L826.7,337.7 L829.2,337.7 L831.7,337.7 L834.2,337.8 L836.7,337.8 L839.1,337.9 L841.6,337.9 L844.1,337.9 L846.6,338.0 L849.1,338.0 L851.6,338.1 L854.1,338.1 L856.6,338.2 L859.1,338.2 L861.6,338.3 L864.1,338.4 L866.6,338.4 L869.1,338.5 L871.6,338.6 L874.1,338.6 L876.6,338.7 L879.1,338.8 L881.6,338.9 L884.1,338.9 L886.6,339.0 L889.1,339.1 L891.6,339.2 L894.0,339.3 L896.5,339.4 L899.0,339.5 L901.5,339.6 L904.0,339.7 L906.5,339.9 L909.0,340.0 L911.5,340.1 L914.0,340.2 L916.5,340.4 L919.0,340.5 L921.5,340.6 L924.0,340.8 L926.4,340.9 L928.9,341.1 L931.4,341.3 L933.9,341.4 L936.4,341.6 L938.9,341.8 L941.4,342.0 L943.9,342.1 L946.4,342.3 L948.8,342.5 L951.3,342.7 L953.8,343.0 L956.3,343.2 L958.8,343.4 L961.3,343.6 L963.8,343.9 L966.2,344.1 L968.7,344.4 L971.2,344.7 L973.7,344.9 L976.2,345.2 L978.6,345.5 L981.1,345.8 L983.6,346.1 L986.1,346.4 L988.5,346.8 L991.0,347.1 L993.5,347.5 L995.9,347.8 L998.4,348.2 L1000.9,348.6 L1003.3,349.0 L1005.8,349.4 L1008.2,349.8 L1010.7,350.2 L1013.2,350.7 L1015.6,351.1 L1018.1,351.6 L1020.5,352.1 L1023.0,352.6 L1025.4,353.1 L1027.9,353.6 L1030.3,354.2 L1032.7,354.7 L1035.2,355.3 L1037.6,355.8 L1040.0,356.4 L1042.5,357.0 L1044.9,357.7 L1047.3,358.3 L1049.7,358.9 L1052.1,359.6 L1054.5,360.3 L1057.0,360.9 L1059.4,361.6 L1061.8,362.4 L1064.1,363.1 L1066.5,363.8 L1068.9,364.6 L1071.3,365.4 L1073.7,366.1 L1076.0,366.9 L1078.4,367.7 L1080.8,368.6 L1083.1,369.4 L1085.5,370.3 L1087.8,371.2 L1090.1,372.0 L1092.5,372.9 L1094.8,373.9 L1097.1,374.8 L1099.4,375.7 L1101.7,376.7 L1104.0,377.7 L1106.3,378.7 L1108.6,379.7 L1110.9,380.7 L1113.2,381.7 L1115.4,382.8 L1117.7,383.9 L1119.9,385.0 L1122.2,386.1 L1124.4,387.2 L1126.6,388.3 L1128.8,389.5 L1131.0,390.6 L1133.2,391.8 L1135.4,393.0 L1137.6,394.2 L1139.8,395.4 L1141.9,396.7 L1144.1,398.0 L1146.2,399.2 L1148.4,400.6 L1150.5,401.9 L1152.6,403.2 L1154.6,404.6 L1156.7,406.0 L1158.7,407.4 L1160.8,408.9 L1162.8,410.3 L1164.8,411.8 L1166.7,413.4 L1168.7,414.9 L1170.6,416.5 L1172.5,418.1 L1174.3,419.7 L1176.1,421.4 L1178.0,423.1 L1179.7,424.9 L1181.5,426.6 L1183.2,428.4 L1184.9,430.3 L1186.6,432.1 L1188.2,434.0 L1189.8,435.9 L1191.4,437.9 L1192.9,439.8 L1194.5,441.8 L1196.0,443.8 L1197.5,445.9 L1198.9,447.9 L1200.4,450.0 L1201.8,452.1 L1203.2,454.2 L1204.5,456.3 L1205.9,458.4 L1207.2,460.5 L1208.5,462.7 L1209.8,464.9 L1211.1,467.0 L1212.3,469.2 L1213.6,471.4 L1214.8,473.6 L1216.0,475.8 L1217.2,478.0 L1218.3,480.2 L1219.4,482.4 L1220.6,484.6 L1221.7,486.8 L1222.7,489.1 L1223.8,491.3 L1224.8,493.6 L1225.9,495.8 L1226.9,498.1 L1227.8,500.4 L1228.8,502.7 L1229.7,505.0 L1230.7,507.3 L1231.5,509.6 L1232.4,511.9 L1233.3,514.2 L1234.1,516.6 L1234.9,518.9 L1235.7,521.3 L1236.5,523.7 L1237.2,526.1 L1237.9,528.5 L1238.6,530.9 L1239.4,533.3 L1240.0,535.7 L1240.7,538.1 L1241.4,540.5 L1242.1,542.9 L1242.8,545.3 L1243.4,547.8 L1244.1,550.2 L1244.8,552.6 L1245.5,555.0 L1246.2,557.4 L1246.9,559.8 L1247.6,562.2 L1248.3,564.6 L1249.1,566.9 L1249.8,569.3 L1250.6,571.7 L1251.3,574.0 L1252.1,576.4 L1252.8,578.8 L1253.5,581.2 L1254.2,583.5 L1255.0,585.9 L1255.7,588.3 L1256.4,590.7 L1257.1,593.1 L1257.7,595.5 L1258.4,597.9 L1259.1,600.3 L1259.7,602.7 L1260.4,605.1 L1261.0,607.5 L1261.7,609.9 L1262.3,612.4 L1262.9,614.8 L1263.5,617.2 L1264.1,619.6 L1264.7,622.0 L1265.3,624.5 L1265.9,626.9 L1266.5,629.3 L1267.1,631.8 L1267.7,634.2 L1268.2,636.6 L1268.8,639.1 L1269.4,641.5 L1269.9,643.9 L1270.5,646.4 L1271.0,648.8 L1271.5,651.3 L1272.1,653.7 L1272.6,656.2 L1273.1,658.6 L1273.7,661.1 L1274.2,663.5 L1274.7,665.9 L1275.2,668.4 L1275.7,670.8 L1276.2,673.3 L1276.8,675.7 L1277.3,678.2 L1277.8,680.6 L1278.3,683.1 L1278.8,685.5 L1279.3,688.0 L1279.8,690.4 L1280.3,692.9 L1280.8,695.3 L1281.2,697.8 L1281.7,700.2 L1282.2,702.7 L1282.7,705.1 L1283.2,707.6 L1283.7,710.0 L1284.2,712.4 L1284.7,714.9 L1285.2,717.3 L1285.7,719.8 L1286.2,722.2 L1286.7,724.6 L1287.3,727.1 L1287.8,729.5 L1288.3,731.9 L1288.9,734.3 L1289.4,736.8 L1290.0,739.2 L1290.5,741.6 L1291.1,744.0 L1291.7,746.5 L1292.3,748.9 L1292.9,751.3 L1293.5,753.7 L1294.2,756.1 L1294.8,758.5 L1295.5,760.9 L1296.2,763.3 L1296.9,765.7 L1297.6,768.1 L1298.3,770.5 L1299.0,772.9 L1299.8,775.3 L1300.6,777.6 L1301.4,780.0 L1302.2,782.4 L1303.0,784.8 L1303.9,787.1 L1304.8,789.5 L1305.7,791.9 L1306.6,794.2 L1307.6,796.6 L1308.5,798.9 L1309.5,801.3 L1310.6,803.6 L1311.6,806.0 L1312.7,808.3 L1313.8,810.6 L1314.9,812.9 L1316.1,815.3 L1317.2,817.6 L1318.5,819.9 L1319.7,822.0 L1321.1,824.1 L1322.6,825.8 L1324.1,827.3 L1325.8,828.4 L1327.6,829.1 L1329.6,829.2 L1331.8,828.9 L1334.0,828.1 L1336.1,826.9 L1338.0,825.4 L1339.7,823.7 L1341.3,821.8 L1342.7,819.7 L1344.1,817.4 L1345.3,815.0 L1346.4,812.5 L1347.4,809.9 L1348.3,807.3 L1349.3,804.7 L1350.2,802.1 L1351.0,799.6 L1351.9,797.2 L1352.8,794.8 L1353.6,792.5 L1354.5,790.3 L1355.4,788.0 L1356.3,785.8 L1357.2,783.6 L1358.1,781.4 L1359.0,779.2 L1359.9,777.0 L1360.8,774.8 L1361.8,772.5 L1362.7,770.3 L1363.7,768.0 L1364.7,765.7 L1365.7,763.5 L1366.7,761.2 L1367.7,758.9 L1368.8,756.6 L1369.8,754.3 L1370.9,752.1 L1372.0,749.8 L1373.1,747.5 L1374.2,745.2 L1375.3,743.0 L1376.5,740.7 L1377.7,738.5 L1378.8,736.2 L1380.0,734.0 L1381.2,731.8 L1382.5,729.6 L1383.7,727.4 L1385.0,725.2 L1386.3,723.1 L1387.6,720.9 L1388.9,718.8 L1390.3,716.7 L1391.7,714.7 L1393.1,712.6 L1394.5,710.6 L1396.0,708.6 L1397.5,706.7 L1399.1,704.8 L1400.7,703.0 L1402.4,701.2 L1404.1,699.4 L1405.9,697.7 L1407.8,696.1 L1409.7,694.5 L1411.6,693.0 L1413.7,691.5 L1415.8,690.1 L1417.9,688.8 L1420.2,687.6 L1422.4,686.4 L1424.8,685.4 L1427.1,684.6 L1429.5,683.8 L1432.0,683.2 L1434.4,682.8 L1436.9,682.6 L1439.3,682.6 L1441.8,682.7 L1444.3,683.0 L1446.7,683.5 L1449.2,684.1 L1451.6,684.7 L1454.0,685.4 L1456.4,686.2 L1458.7,687.1 L1461.0,688.0 L1463.3,688.9 L1465.6,689.9 L1467.9,690.9 L1470.1,692.0 L1472.3,693.2 L1474.5,694.3 L1476.7,695.6 L1478.9,696.8 L1481.0,698.1 L1483.1,699.4 L1485.3,700.7 L1487.4,702.1 L1489.4,703.5 L1491.5,704.9 L1493.5,706.4 L1495.6,707.8 L1497.6,709.3 L1499.6,710.8 L1501.6,712.3 L1503.6,713.8 L1505.6,715.3 L1507.6,716.8 L1509.5,718.4 L1511.5,719.9 L1513.4,721.5 L1515.3,723.1 L1517.3,724.7 L1519.2,726.3 L1521.1,727.9 L1523.0,729.5 L1524.9,731.1 L1526.7,732.8 L1528.6,734.4 L1530.5,736.1 L1532.3,737.7 L1534.2,739.4 L1536.1,741.1 L1537.9,742.7 L1539.7,744.4 L1541.6,746.1 L1543.4,747.8 L1545.2,749.5 L1547.1,751.2 L1548.9,752.9 L1550.7,754.6 L1552.5,756.3 L1554.3,758.0 L1556.1,759.7 L1558.0,761.5 L1559.8,763.2 L1561.6,764.9 L1563.4,766.6 L1565.2,768.3 L1567.0,770.1 L1568.8,771.8 L1570.6,773.5 L1572.4,775.2 L1574.2,777.0 L1576.0,778.7 L1577.7,780.5 L1579.5,782.2 L1581.3,783.9 L1583.1,785.7 L1584.9,787.4 L1586.7,789.2 L1588.4,790.9 L1590.2,792.7 L1592.0,794.4 L1593.8,796.2 L1595.5,797.9 L1597.3,799.7 L1599.1,801.5 L1600.8,803.2 L1602.6,805.0 L1604.4,806.8 L1606.1,808.5 L1607.9,810.3 L1609.6,812.1 L1611.4,813.9 L1613.1,815.7 L1614.9,817.5 L1616.6,819.2 L1618.3,821.0 L1620.1,822.8 L1621.8,824.6 L1623.5,826.4 L1625.3,828.2 L1627.0,830.0 L1628.7,831.8 L1630.5,833.6 L1632.2,835.4 L1633.9,837.3 L1635.6,839.1 L1637.3,840.9 L1639.0,842.7 L1640.7,844.5 L1642.4,846.4 L1644.1,848.2 L1645.8,850.0 L1647.5,851.9 L1649.2,853.7 L1650.9,855.5 L1652.6,857.4 L1654.3,859.2 L1656.0,861.1 L1657.6,862.9 L1659.3,864.8 L1661.0,866.6 L1662.6,868.5 L1664.3,870.4 L1666.0,872.2 L1667.6,874.1 L1669.3,876.0 L1670.9,877.8 L1672.6,879.7 L1674.2,881.6 L1675.8,883.5 L1677.5,885.4 L1679.1,887.3 L1680.7,889.2 L1682.3,891.1 L1683.9,893.0 L1685.6,894.9 L1687.2,896.8 L1688.8,898.7 L1690.4,900.6 L1692.0,902.5 L1693.6,904.5 L1695.1,906.4 L1696.7,908.3 L1698.3,910.3 L1699.9,912.2 L1701.4,914.1 L1703.0,916.1 L1704.6,918.0 L1706.1,920.0 L1707.7,921.9 L1709.2,923.9 L1710.8,925.9 L1712.3,927.8 L1713.8,929.8 L1715.3,931.8 L1716.9,933.7 L1718.4,935.7 L1719.9,937.7 L1721.4,939.7 L1722.9,941.7 L1724.4,943.7 L1725.9,945.7 L1727.4,947.7 L1728.8,949.7 L1730.3,951.7 L1731.8,953.7 L1733.3,955.7 L1734.7,957.8 L1736.2,959.8 L1737.6,961.8 L1739.1,963.9 L1740.5,965.9 L1741.9,967.9 L1743.4,970.0 L1744.8,972.0 L1746.2,974.1 L1747.6,976.2 L1749.0,978.2 L1750.4,980.3 L1751.8,982.4 L1753.2,984.4 L1754.6,986.5 L1756.0,988.6 L1757.3,990.7 L1758.7,992.8 L1760.1,994.9 L1761.4,996.9 L1762.8,999.0 L1764.1,1001.2 L1765.4,1003.3 L1766.8,1005.4 L1768.1,1007.5 L1769.4,1009.6 L1770.7,1011.7 L1772.0,1013.9 L1773.3,1016.0 L1774.6,1018.1 L1775.9,1020.3 L1777.2,1022.4 L1778.5,1024.6 L1779.8,1026.7 L1781.0,1028.9 L1782.3,1031.0 L1783.6,1033.2 L1784.8,1035.4 L1786.0,1037.5 L1787.3,1039.7 L1788.5,1041.9 L1789.7,1044.1 L1790.9,1046.3 L1792.1,1048.5 L1793.3,1050.7 L1794.5,1052.9 L1795.7,1055.1 L1796.8,1057.3 L1798.0,1059.5 L1799.1,1061.7 L1800.3,1063.9 L1801.4,1066.1 L1802.5,1068.4 L1803.6,1070.6 L1804.7,1072.8 L1805.8,1075.1 L1806.9,1077.3 L1807.9,1079.6 L1809.0,1081.8 L1810.0,1084.1 L1811.1,1086.3 L1812.1,1088.6 L1813.1,1090.9 L1814.1,1093.2 L1815.1,1095.4 L1816.0,1097.7 L1817.0,1100.0" fill="none" stroke="#0000ff" stroke-width="6.0" stroke-linejoin="round" stroke-linecap="round"/>
<path d="M1817.0,1100.0 L1817.0,1097.5 L1816.9,1095.0 L1816.8,1092.5 L1816.8,1090.0 L1816.7,1087.5 L1816.6,1085.0 L1816.5,1082.5 L1816.4,1080.0 L1816.3,1077.6 L1816.2,1075.1 L1816.1,1072.6 L1815.9,1070.1 L1815.8,1067.6 L1815.6,1065.1 L1815.4,1062.6 L1815.3,1060.1 L1815.1,1057.6 L1814.9,1055.1 L1814.7,1052.7 L1814.5,1050.2 L1814.3,1047.7 L1814.1,1045.2 L1813.8,1042.7 L1813.6,1040.2 L1813.3,1037.7 L1813.1,1035.3 L1812.8,1032.8 L1812.6,1030.3 L1812.3,1027.8 L1812.0,1025.3 L1811.7,1022.9 L1811.4,1020.4 L1811.1,1017.9 L1810.8,1015.4 L1810.4,1013.0 L1810.1,1010.5 L1809.8,1008.0 L1809.4,1005.5 L1809.1,1003.1 L1808.7,1000.6 L1808.3,998.1 L1807.9,995.6 L1807.6,993.2 L1807.2,990.7 L1806.8,988.2 L1806.4,985.8 L1805.9,983.3 L1805.5,980.9 L1805.1,978.4 L1804.7,975.9 L1804.2,973.5 L1803.8,971.0 L1803.3,968.6 L1802.9,966.1 L1802.4,963.6 L1801.9,961.2 L1801.4,958.7 L1800.9,956.3 L1800.4,953.8 L1799.9,951.4 L1799.4,948.9 L1798.9,946.5 L1798.4,944.0 L1797.9,941.6 L1797.3,939.2 L1796.8,936.7 L1796.2,934.3 L1795.7,931.8 L1795.1,929.4 L1794.5,927.0 L1794.0,924.5 L1793.4,922.1 L1792.8,919.7 L1792.2,917.2 L1791.6,914.8 L1791.0,912.4 L1790.4,909.9 L1789.8,907.5 L1789.2,905.1 L1788.6,902.7 L1787.9,900.2 L1787.3,897.8 L1786.6,895.4 L1786.0,893.0 L1785.3,890.6 L1784.7,888.2 L1784.0,885.8 L1783.3,883.4 L1782.7,880.9 L1782.0,878.5 L1781.3,876.1 L1780.6,873.7 L1779.9,871.3 L1779.2,868.9 L1778.5,866.5 L1777.8,864.1 L1777.1,861.8 L1776.4,859.4 L1775.6,857.0 L1774.9,854.6 L1774.2,852.2 L1773.4,849.8 L1772.7,847.4 L1771.9,845.1 L1771.2,842.7 L1770.4,840.3 L1769.6,837.9 L1768.9,835.6 L1768.1,833.2 L1767.3,830.8 L1766.5,828.4 L1765.7,826.1 L1764.9,823.7 L1764.1,821.4 L1763.3,819.0 L1762.5,816.6 L1761.7,814.3 L1760.9,811.9 L1760.1,809.6 L1759.2,807.2 L1758.4,804.9 L1757.5,802.6 L1756.7,800.2 L1755.8,797.9 L1755.0,795.5 L1754.1,793.2 L1753.2,790.9 L1752.4,788.5 L1751.5,786.2 L1750.6,783.9 L1749.7,781.5 L1748.8,779.2 L1747.9,776.9 L1747.0,774.6 L1746.1,772.3 L1745.2,770.0 L1744.3,767.6 L1743.3,765.3 L1742.4,763.0 L1741.5,760.7 L1740.5,758.4 L1739.6,756.1 L1738.6,753.8 L1737.6,751.5 L1736.7,749.2 L1735.7,746.9 L1734.7,744.6 L1733.7,742.3 L1732.7,740.1 L1731.7,737.8 L1730.7,735.5 L1729.7,733.2 L1728.7,730.9 L1727.7,728.7 L1726.7,726.4 L1725.6,724.1 L1724.6,721.8 L1723.5,719.6 L1722.5,717.3 L1721.4,715.1 L1720.4,712.8 L1719.3,710.5 L1718.2,708.3 L1717.1,706.0 L1716.0,703.8 L1714.9,701.5 L1713.8,699.3 L1712.7,697.1 L1711.6,694.8 L1710.5,692.6 L1709.4,690.4 L1708.2,688.1 L1707.1,685.9 L1705.9,683.7 L1704.8,681.5 L1703.6,679.2 L1702.5,677.0 L1701.3,674.8 L1700.1,672.6 L1698.9,670.4 L1697.7,668.2 L1696.5,666.0 L1695.3,663.8 L1694.1,661.6 L1692.9,659.5 L1691.7,657.3 L1690.4,655.1 L1689.2,652.9 L1687.9,650.8 L1686.7,648.6 L1685.4,646.4 L1684.2,644.3 L1682.9,642.1 L1681.6,640.0 L1680.3,637.9 L1679.0,635.7 L1677.7,633.6 L1676.4,631.5 L1675.1,629.3 L1673.8,627.2 L1672.4,625.1 L1671.1,623.0 L1669.7,620.9 L1668.4,618.8 L1667.0,616.7 L1665.6,614.6 L1664.3,612.5 L1662.9,610.5 L1661.5,608.4 L1660.1,606.3 L1658.7,604.3 L1657.3,602.2 L1655.8,600.2 L1654.4,598.1 L1653.0,596.1 L1651.5,594.0 L1650.1,592.0 L1648.6,590.0 L1647.1,588.0 L1645.7,586.0 L1644.2,584.0 L1642.7,582.0 L1641.2,580.0 L1639.7,578.0 L1638.2,576.0 L1636.6,574.0 L1635.1,572.1 L1633.6,570.1 L1632.0,568.2 L1630.4,566.2 L1628.9,564.3 L1627.3,562.4 L1625.7,560.4 L1624.1,558.5 L1622.5,556.6 L1620.9,554.7 L1619.3,552.8 L1617.7,550.9 L1616.1,549.0 L1614.4,547.2 L1612.8,545.3 L1611.1,543.4 L1609.4,541.6 L1607.8,539.7 L1606.1,537.9 L1604.4,536.1 L1602.7,534.3 L1601.0,532.4 L1599.3,530.6 L1597.5,528.8 L1595.8,527.0 L1594.1,525.2 L1592.3,523.4 L1590.6,521.7 L1588.9,519.9 L1587.1,518.1 L1585.3,516.3 L1583.6,514.6 L1581.8,512.8 L1580.1,511.0 L1578.3,509.3 L1576.5,507.5 L1574.7,505.7 L1573.0,504.0 L1571.2,502.2 L1569.4,500.4 L1567.6,498.7 L1565.9,496.9 L1564.1,495.2 L1562.3,493.4 L1560.5,491.6 L1558.8,489.9 L1557.0,488.1 L1555.2,486.3 L1553.4,484.5 L1551.7,482.8 L1549.9,481.0 L1548.2,479.2 L1546.4,477.4 L1544.6,475.6 L1542.9,473.8 L1541.2,472.0 L1539.4,470.2 L1537.7,468.4 L1535.9,466.6 L1534.2,464.8 L1532.4,463.0 L1530.7,461.2 L1528.9,459.4 L1527.2,457.6 L1525.4,455.8 L1523.7,454.0 L1521.9,452.2 L1520.2,450.5 L1518.4,448.7 L1516.7,446.9 L1514.9,445.1 L1513.1,443.4 L1511.3,441.6 L1509.6,439.9 L1507.8,438.1 L1506.0,436.4 L1504.2,434.6 L1502.4,432.9 L1500.5,431.2 L1498.7,429.5 L1496.9,427.8 L1495.0,426.1 L1493.2,424.5 L1491.3,422.8 L1489.5,421.2 L1487.6,419.5 L1485.7,417.9 L1483.8,416.3 L1481.9,414.7 L1480.0,413.1 L1478.0,411.6 L1476.1,410.0 L1474.1,408.5 L1472.2,406.9 L1470.2,405.4 L1468.2,403.9 L1466.2,402.4 L1464.3,400.9 L1462.3,399.4 L1460.2,397.9 L1458.2,396.5 L1456.2,395.0 L1454.2,393.6 L1452.1,392.1 L1450.1,390.7 L1448.0,389.3 L1446.0,387.9 L1443.9,386.5 L1441.8,385.1 L1439.8,383.7 L1437.7,382.3 L1435.6,381.0 L1433.5,379.6 L1431.4,378.3 L1429.3,376.9 L1427.2,375.6 L1425.0,374.3 L1422.9,373.0 L1420.8,371.6 L1418.7,370.3 L1416.5,369.0 L1414.4,367.7 L1412.2,366.5 L1410.1,365.2 L1407.9,363.9 L1405.8,362.6 L1403.6,361.4 L1401.5,360.1 L1399.3,358.8 L1397.1,357.6 L1395.0,356.3 L1392.8,355.1 L1390.6,353.9 L1388.5,352.6 L1386.3,351.4 L1384.1,350.2 L1381.9,349.0 L1379.7,347.7 L1377.6,346.5 L1375.4,345.3 L1373.2,344.1 L1371.0,342.9 L1368.8,341.7 L1366.6,340.5 L1364.4,339.4 L1362.2,338.2 L1360.0,337.0 L1357.8,335.8 L1355.6,334.7 L1353.4,333.5 L1351.2,332.3 L1349.0,331.2 L1346.7,330.0 L1344.5,328.9 L1342.3,327.7 L1340.1,326.6 L1337.9,325.4 L1335.6,324.3 L1333.4,323.2 L1331.2,322.1 L1328.9,320.9 L1326.7,319.8 L1324.5,318.7 L1322.2,317.6 L1320.0,316.5 L1317.8,315.4 L1315.5,314.3 L1313.3,313.2 L1311.0,312.1 L1308.8,311.0 L1306.5,309.9 L1304.3,308.9 L1302.0,307.8 L1299.8,306.7 L1297.5,305.6 L1295.3,304.6 L1293.0,303.5 L1290.7,302.4 L1288.5,301.4 L1286.2,300.3 L1284.0,299.3 L1281.7,298.2 L1279.4,297.2 L1277.1,296.2 L1274.9,295.1 L1272.6,294.1 L1270.3,293.1 L1268.0,292.1 L1265.8,291.0 L1263.5,290.0 L1261.2,289.0 L1258.9,288.0 L1256.6,287.0 L1254.3,286.0 L1252.1,285.0 L1249.8,284.0 L1247.5,283.0 L1245.2,282.0 L1242.9,281.0 L1240.6,280.0 L1238.3,279.0 L1236.0,278.1 L1233.7,277.1 L1231.4,276.1 L1229.1,275.1 L1226.8,274.2 L1224.5,273.2 L1222.2,272.2 L1219.9,271.3 L1217.6,270.3 L1215.3,269.4 L1212.9,268.4 L1210.6,267.5 L1208.3,266.5 L1206.0,265.6 L1203.7,264.7 L1201.4,263.7 L1199.0,262.8 L1196.7,261.9 L1194.4,260.9 L1192.1,260.0 L1189.8,259.1 L1187.4,258.2 L1185.1,257.3 L1182.8,256.4 L1180.4,255.5 L1178.1,254.6 L1175.8,253.7 L1173.4,252.8 L1171.1,251.9 L1168.8,251.0 L1166.4,250.2 L1164.1,249.3 L1161.7,248.5 L1159.4,247.6 L1157.0,246.8 L1154.7,245.9 L1152.3,245.1 L1150.0,244.3 L1147.6,243.4 L1145.2,242.6 L1142.9,241.8 L1140.5,241.0 L1138.2,240.2 L1135.8,239.5 L1133.4,238.7 L1131.0,237.9 L1128.7,237.2 L1126.3,236.4 L1123.9,235.7 L1121.5,234.9 L1119.1,234.2 L1116.8,233.5 L1114.4,232.8 L1112.0,232.1 L1109.6,231.4 L1107.2,230.7 L1104.8,230.1 L1102.4,229.4 L1100.0,228.7 L1097.6,228.1 L1095.1,227.5 L1092.7,226.9 L1090.3,226.3 L1087.9,225.7 L1085.5,225.1 L1083.0,224.5 L1080.6,223.9 L1078.2,223.4 L1075.7,222.8 L1073.3,222.3 L1070.9,221.8 L1068.4,221.3 L1066.0,220.8 L1063.5,220.3 L1061.1,219.8 L1058.6,219.3 L1056.2,218.8 L1053.7,218.4 L1051.3,217.9 L1048.8,217.5 L1046.3,217.0 L1043.9,216.6 L1041.4,216.2 L1038.9,215.7 L1036.5,215.3 L1034.0,214.9 L1031.5,214.5 L1029.1,214.1 L1026.6,213.7 L1024.1,213.3 L1021.7,212.9 L1019.2,212.5 L1016.7,212.1 L1014.2,211.7 L1011.8,211.3 L1009.3,210.9 L1006.8,210.6 L1004.4,210.2 L1001.9,209.8 L999.4,209.4 L996.9,209.0 L994.5,208.6 L992.0,208.3 L989.5,207.9 L987.1,207.5 L984.6,207.1 L982.1,206.7 L979.6,206.4 L977.2,206.0 L974.7,205.6 L972.2,205.2 L969.8,204.9 L967.3,204.5 L964.8,204.1 L962.4,203.7 L959.9,203.4 L957.4,203.0 L954.9,202.6 L952.5,202.3 L950.0,201.9 L947.5,201.5 L945.1,201.2 L942.6,200.8 L940.1,200.5 L937.7,200.1 L935.2,199.7 L932.7,199.4 L930.2,199.0 L927.8,198.7 L925.3,198.3 L922.8,198.0 L920.4,197.6 L917.9,197.3 L915.4,197.0 L912.9,196.6 L910.5,196.3 L908.0,195.9 L905.5,195.6 L903.1,195.3 L900.6,194.9 L898.1,194.6 L895.6,194.3 L893.2,193.9 L890.7,193.6 L888.2,193.3 L885.7,193.0 L883.3,192.6 L880.8,192.3 L878.3,192.0 L875.8,191.7 L873.4,191.4 L870.9,191.1 L868.4,190.8 L865.9,190.5 L863.5,190.2 L861.0,189.8 L858.5,189.5 L856.0,189.3 L853.5,189.0 L851.1,188.7 L848.6,188.4 L846.1,188.1 L843.6,187.8 L841.1,187.5 L838.7,187.2 L836.2,186.9 L833.7,186.7 L831.2,186.4 L828.7,186.1 L826.2,185.8 L823.8,185.6 L821.3,185.3 L818.8,185.0 L816.3,184.8 L813.8,184.5 L811.3,184.2 L808.9,184.0 L806.4,183.7 L803.9,183.5 L801.4,183.2 L798.9,183.0 L796.4,182.7 L793.9,182.5 L791.5,182.2 L789.0,182.0 L786.5,181.8 L784.0,181.5 L781.5,181.3 L779.0,181.0 L776.5,180.8 L774.0,180.6 L771.5,180.4 L769.1,180.1 L766.6,179.9 L764.1,179.7 L761.6,179.5 L759.1,179.2 L756.6,179.0 L754.1,178.8 L751.6,178.6 L749.1,178.4 L746.6,178.2 L744.2,178.0 L741.7,177.8 L739.2,177.6 L736.7,177.4 L734.2,177.2 L731.7,177.0 L729.2,176.8 L726.7,176.6 L724.2,176.4 L721.7,176.2 L719.2,176.0 L716.7,175.8 L714.3,175.6 L711.8,175.4 L709.3,175.3 L706.8,175.1 L704.3,174.9 L701.8,174.7 L699.3,174.6 L696.8,174.4 L694.3,174.2 L691.8,174.1 L689.3,173.9 L686.8,173.7 L684.3,173.6 L681.8,173.4 L679.3,173.2 L676.9,173.1 L674.4,172.9 L671.9,172.8 L669.4,172.6 L666.9,172.5 L664.4,172.3 L661.9,172.2 L659.4,172.0 L656.9,171.9 L654.4,171.7 L651.9,171.6 L649.4,171.5 L646.9,171.3 L644.4,171.2 L641.9,171.1 L639.4,170.9 L636.9,170.8 L634.5,170.7 L632.0,170.6 L629.5,170.4 L627.0,170.3 L624.5,170.2 L622.0,170.1 L619.5,170.0 L617.0,169.8 L614.5,169.7 L612.0,169.6 L609.5,169.5 L607.0,169.4 L604.5,169.3 L602.0,169.2 L599.5,169.1 L597.1,169.0 L594.6,168.9 L592.1,168.8 L589.6,168.7 L587.1,168.6 L584.6,168.5 L582.1,168.4 L579.6,168.3 L577.1,168.2 L574.6,168.2 L572.1,168.1 L569.6,168.0 L567.1,167.9 L564.6,167.8 L562.1,167.8 L559.6,167.7 L557.1,167.6 L554.6,167.6 L552.1,167.5 L549.6,167.4 L547.1,167.4 L544.7,167.3 L542.2,167.2 L539.7,167.2 L537.2,167.1 L534.7,167.1 L532.2,167.0 L529.7,167.0 L527.2,166.9 L524.7,166.9 L522.2,166.8 L519.7,166.8 L517.2,166.8 L514.7,166.7 L512.2,166.7 L509.7,166.7 L507.2,166.6 L504.7,166.6 L502.1,166.6 L499.6,166.5 L497.1,166.5 L494.6,166.5 L492.1,166.5 L489.6,166.5 L487.1,166.4 L484.6,166.4 L482.1,166.4 L479.6,166.3 L477.1,166.2 L474.7,166.1 L472.2,166.0 L469.8,165.7 L467.3,165.5 L464.9,165.1 L462.5,164.7 L460.1,164.2 L457.8,163.6 L455.5,162.9 L453.2,162.1 L450.9,161.2 L448.7,160.2 L446.5,159.0 L444.4,157.7 L442.3,156.3 L440.2,154.8 L438.1,153.1 L436.1,151.4 L434.1,149.7 L432.1,147.9 L430.1,146.1 L428.1,144.3 L426.1,142.6 L424.1,140.9 L422.0,139.3 L420.0,137.8 L417.9,136.5 L415.8,135.3 L413.6,134.2 L411.4,133.4 L409.1,132.8 L406.8,132.4 L404.4,132.2 L402.1,132.2 L399.7,132.4 L397.3,132.8 L394.9,133.4 L392.6,134.2 L390.2,135.1 L388.0,136.2 L385.7,137.4 L383.6,138.7 L381.5,140.2 L379.5,141.8 L377.7,143.6 L375.8,145.4 L374.1,147.2 L372.4,149.1 L370.6,151.0 L368.9,152.8 L367.2,154.6 L365.4,156.4 L363.6,158.0 L361.6,159.4 L359.6,160.8 L357.5,161.9 L355.2,162.9 L352.9,163.7 L350.4,164.4 L348.0,164.9 L345.5,165.4 L343.0,165.9 L340.5,166.3 L337.9,166.6 L335.4,167.0 L332.9,167.3 L330.4,167.5 L328.0,167.8 L325.5,168.0 L323.0,168.3 L320.5,168.5 L318.0,168.7 L315.5,168.9 L313.0,169.1 L310.5,169.3 L308.1,169.6 L305.6,169.8 L303.1,170.0 L300.6,170.3 L298.2,170.6 L295.7,170.9 L293.2,171.3" fill="none" stroke="#0000ff" stroke-width="6.0" stroke-linejoin="round" stroke-linecap="round"/>
<rect x="291.2" y="56.9" width="1527.6" height="1198.3" fill="none" stroke="#0a0a0a" stroke-width="4.6"/>
<path d="M363.4,992.2H496.1" stroke="#ff0000" stroke-width="5" stroke-linecap="round"/>
<path d="M360.7,1074.3H496.1" stroke="#0000ff" stroke-width="5" stroke-linecap="round"/>
<path d="M593.5,489.2H1012" stroke="#111" stroke-width="4.8"/>
<path d="M998.2,474L1016.5,489.2L998.2,503.6" stroke="#111" stroke-width="3.4" fill="none" stroke-linejoin="miter" stroke-miterlimit="10" stroke-linecap="round"/>
<path d="M1006,483.6L1017,489.2L1006,494.8Z" fill="#111"/>
<ellipse cx="856" cy="695.7" rx="1.8" ry="3" fill="#ffd98a"/>
<circle cx="421.5" cy="1199.2" r="2.4" fill="#c6c6c6"/>
<g font-family="Liberation Serif, Times New Roman, serif" font-weight="bold" fill="#000">
<text transform="translate(181.09,81.13) scale(0.9963,1.0133)" font-size="64" >2.0</text>
<text transform="translate(180.67,199.01) scale(1.0017,1.0271)" font-size="64" >1.0</text>
<text transform="translate(184.45,319.34) scale(0.9787,1.0041)" font-size="64" >0.0</text>
<text transform="translate(163.66,439.56) scale(0.9743,0.9766)" font-size="64" >-1.0</text>
<text transform="translate(161.67,555.05) scale(0.9691,0.9926)" font-size="64" >-2.0</text>
<text transform="translate(161.42,680.44) scale(0.9898,0.9995)" font-size="64" >-3.0</text>
<text transform="translate(161.42,793.92) scale(0.9898,1.0225)" font-size="64" >-4.0</text>
<text transform="translate(159.56,917.46) scale(0.9764,0.9766)" font-size="64" >-5.0</text>
<text transform="translate(162.97,1035.46) scale(0.9691,0.9743)" font-size="64" >-6.0</text>
<text transform="translate(162.57,1158.76) scale(0.9691,0.9835)" font-size="64" >-7.0</text>
<text transform="translate(162.57,1276.04) scale(0.9691,1.0041)" font-size="64" >-8.0</text>
<text transform="translate(250.03,1339.71) scale(1.0014,1.0458)" font-size="63" >0.6</text>
<text transform="translate(476.21,1339.75) scale(0.9710,1.0014)" font-size="63" >0.4</text>
<text transform="translate(692.18,1337.76) scale(0.9836,0.9944)" font-size="63" >0.2</text>
<text transform="translate(911.36,1341.12) scale(0.9902,1.0341)" font-size="63" >0.0</text>
<text transform="translate(1111.29,1342.94) scale(0.9762,1.0154)" font-size="63" >-0.2</text>
<text transform="translate(1326.95,1343.82) scale(0.9519,1.0364)" font-size="63" >-0.4</text>
<text transform="translate(1543.57,1341.51) scale(0.9880,1.0434)" font-size="63" >-0.6</text>
<text transform="translate(1763.26,1341.61) scale(0.9907,1.0458)" font-size="63" >-0.8</text>
<text transform="translate(357.44,115.20) scale(1.0265,1.0076)" font-size="70" >P</text>
<text transform="translate(405.58,119.24) scale(1.0627,0.9681)" font-size="47" >a2</text>
<text transform="translate(374.77,384.60) scale(1.0013,0.9858)" font-size="70" >P</text>
<text transform="translate(421.58,389.34) scale(1.1086,0.9681)" font-size="47" >c2</text>
<text transform="translate(1290.93,1007.30) scale(1.0341,0.9924)" font-size="70" >P</text>
<text transform="translate(1337.23,1012.53) scale(1.0148,1.0067)" font-size="47" >c1</text>
<text transform="translate(602.94,449.60) scale(1.0094,0.9592)" font-size="60" >initial direction</text>
<text transform="translate(512.88,1014.90) scale(1.0347,0.9865)" font-size="66" >the first cycle</text>
<text transform="translate(512.88,1091.70) scale(1.0292,0.9658)" font-size="66" >the sencond cycle</text>
<text transform="translate(841.90,1483.20) scale(1.0554,0.9937)" font-size="114" font-style="italic" >E</text>
<text transform="translate(945.01,1482.09) scale(0.8846,0.9751)" font-size="114" >/</text>
<text transform="translate(1002.70,1484.08) scale(0.9624,1.0055)" font-size="114" >V</text>
<text transform="translate(82.50,803.55) rotate(-90) scale(1.1313,0.9784)" font-size="90" font-style="italic" >i</text>
<text transform="translate(82.50,755.05) rotate(-90) scale(0.9412,1.0460)" font-size="90" >/</text>
<text transform="translate(82.50,709.89) rotate(-90) scale(0.9846,1.0226)" font-size="90" >10</text>
<text transform="translate(80.33,599.11) rotate(-90) scale(0.9012,1.0128)" font-size="90" >μ</text>
<text transform="translate(80.30,552.49) rotate(-90) scale(0.9929,1.0101)" font-size="90" >A</text>
</g>
</g>
</svg>
</body></html>
